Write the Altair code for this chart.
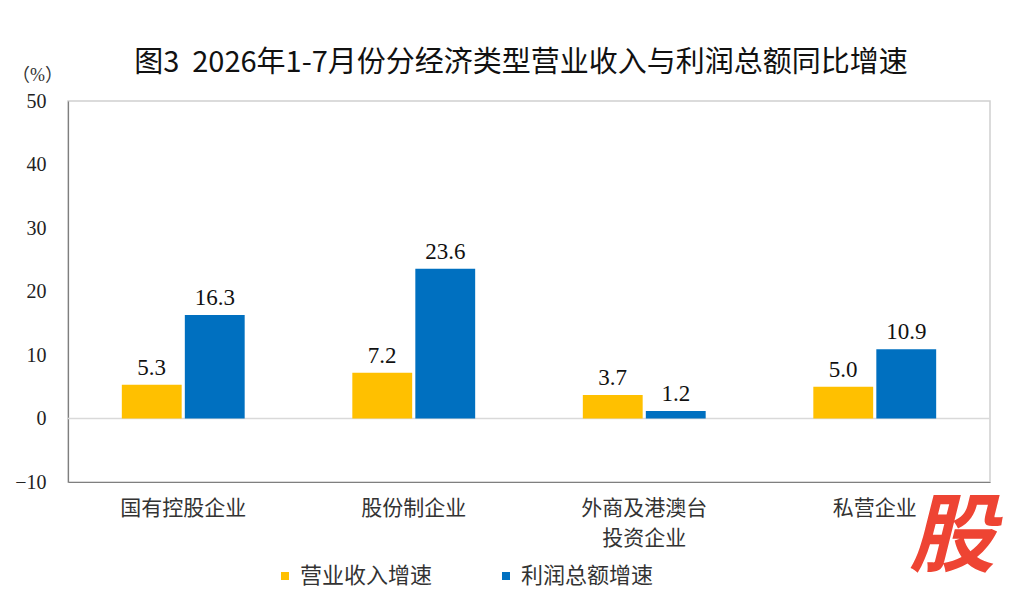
import altair as alt
import pandas as pd

categories = ["国有控股企业", "股份制企业", "外商及港澳台投资企业", "私营企业"]
series = ["营业收入增速", "利润总额增速"]
revenue_growth = [5.3, 7.2, 3.7, 5.0]
profit_growth = [16.3, 23.6, 1.2, 10.9]
y_ticks = [-10, 0, 10, 20, 30, 40, 50]

rows = []
for c, r, p in zip(categories, revenue_growth, profit_growth):
    rows.append({"cat": c, "series": series[0], "value": r, "label": f"{r:.1f}"})
    rows.append({"cat": c, "series": series[1], "value": p, "label": f"{p:.1f}"})
df = pd.DataFrame(rows)

SERIF = "'Liberation Serif', 'Noto Sans CJK SC'"
SANS = "'Noto Sans CJK SC'"

x_enc = alt.X("cat:N", sort=categories,
              scale=alt.Scale(paddingInner=0.467, paddingOuter=0.2335),
              axis=alt.Axis(title=None, labelAngle=0, labelFont=SERIF, labelFontSize=21,
                            labelColor="#333333", labelPadding=15, labelLineHeight=30,
                            ticks=False, domainColor="#7f7f7f", domainWidth=1.2,
                            labelExpr="datum.label == '外商及港澳台投资企业' ? ['外商及港澳台', '投资企业'] : datum.label"))
xoff = alt.XOffset("series:N", sort=series, scale=alt.Scale(paddingInner=0.05))
y_enc = alt.Y("value:Q", scale=alt.Scale(domain=[-10, 50], nice=False),
              axis=alt.Axis(values=y_ticks, title="（%）", titleAngle=0, titleFont=SERIF,
                            titleFontSize=18, titleFontWeight="normal", titleColor="#333333",
                            titleX=-31, titleY=-17, titleAlign="center",
                            labelFont=SERIF, labelFontSize=20, labelColor="#222222",
                            labelPadding=22, ticks=False, grid=False,
                            domainColor="#7f7f7f", domainWidth=1.2))

color = alt.Color("series:N", sort=series,
                  scale=alt.Scale(domain=series, range=["#FFC000", "#0070C0"]),
                  legend=alt.Legend(title=None, orient="none", direction="horizontal",
                                    legendX=206, legendY=464, symbolType="square",
                                    symbolSize=64, symbolStrokeWidth=0, labelFont=SANS,
                                    labelFontSize=22, labelColor="#333333", labelOffset=4,
                                    columnPadding=62))

bars = alt.Chart(df).mark_bar().encode(x=x_enc, xOffset=xoff, y=y_enc, color=color)

labels = alt.Chart(df).mark_text(baseline="bottom", dy=-5, font=SERIF, fontSize=23,
                                 color="#111111").encode(
    x=alt.X("cat:N", sort=categories), xOffset=xoff, y="value:Q", text="label:N")

zero = alt.Chart(pd.DataFrame({"v": [0]})).mark_rule(color="#d9d9d9", strokeWidth=1.5).encode(y="v:Q")

logo = alt.Chart(pd.DataFrame({"t": ["股"]})).mark_text(
    font=SANS, fontSize=86, fontWeight="bold", fontStyle="italic", color="#EE4433",
    align="center", baseline="middle").encode(
    text="t:N", x=alt.value(884), y=alt.value(438))

chart = alt.layer(zero, bars, labels, logo).properties(
    width=922, height=381,
    autosize=alt.AutoSizeParams(type="none"),
    padding={"left": 60, "top": 93, "right": 26, "bottom": 110},
    title=alt.TitleParams("图3\u00a0\u00a02026年1-7月份分经济类型营业收入与利润总额同比增速",
                          font=SANS, fontSize=29, fontWeight="normal", color="#111111",
                          anchor="middle", dx=-8, dy=34, offset=22),
).configure_view(stroke="#d0d0d0", strokeWidth=1.5)

chart.save("out.html", embed_options={"renderer": "svg", "actions": False})
